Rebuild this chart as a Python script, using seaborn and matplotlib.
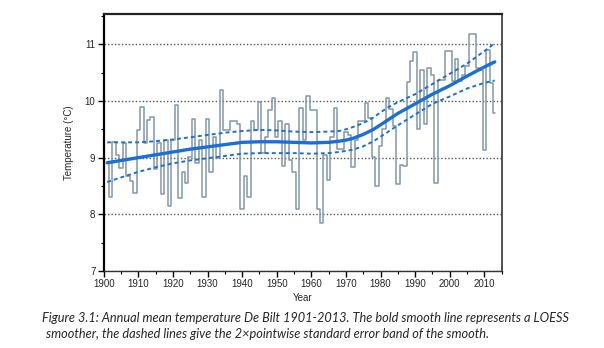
import matplotlib
matplotlib.use("Agg")
import matplotlib.pyplot as plt
import seaborn as sns
import pandas as pd
from matplotlib.ticker import MultipleLocator

years = list(range(1901, 2014))
temps = [8.90, 8.30, 9.27, 9.05, 8.81, 9.25, 8.68, 8.58, 8.37, 9.49,
         9.89, 9.25, 9.66, 9.72, 8.80, 9.25, 8.36, 9.31, 8.14, 9.31,
         9.93, 8.28, 8.75, 8.55, 9.02, 9.68, 8.91, 9.31, 8.30, 9.68,
         8.75, 9.37, 8.99, 10.20, 9.48, 9.49, 9.65, 9.65, 9.60, 8.10,
         8.68, 8.30, 9.64, 9.49, 9.99, 9.08, 9.37, 9.84, 10.05, 9.37,
         9.64, 8.85, 9.60, 8.95, 8.75, 8.10, 9.87, 9.32, 10.09, 9.84,
         9.84, 8.10, 7.84, 9.05, 8.60, 9.37, 9.87, 9.16, 9.15, 9.45,
         9.40, 8.84, 9.31, 9.64, 9.65, 9.97, 9.70, 9.02, 8.50, 9.20,
         9.50, 10.05, 9.85, 9.55, 8.53, 8.87, 8.85, 10.34, 10.71, 10.87,
         9.50, 10.54, 9.60, 10.58, 10.46, 8.56, 10.37, 10.37, 10.89, 10.89,
         10.36, 10.74, 10.36, 10.46, 10.62, 11.18, 11.18, 10.58, 10.55, 9.14,
         10.90, 10.31, 9.79]

smooth_years = [1901, 1905, 1910, 1915, 1920, 1925, 1930, 1935, 1940, 1945, 1950, 1955,
                1960, 1965, 1968, 1970, 1972, 1975, 1978, 1980, 1982, 1985, 1990, 1995,
                2000, 2005, 2010, 2013]
loess = [8.91, 8.95, 9.00, 9.05, 9.10, 9.15, 9.19, 9.23, 9.27, 9.28, 9.28, 9.27,
         9.26, 9.27, 9.29, 9.31, 9.34, 9.41, 9.50, 9.58, 9.66, 9.78, 9.95, 10.12,
         10.27, 10.44, 10.60, 10.69]
upper = [9.27, 9.27, 9.27, 9.29, 9.32, 9.36, 9.40, 9.44, 9.47, 9.49, 9.48, 9.46,
         9.45, 9.46, 9.47, 9.50, 9.54, 9.61, 9.71, 9.80, 9.88, 9.98, 10.12, 10.30,
         10.48, 10.66, 10.88, 11.02]
lower = [8.57, 8.65, 8.75, 8.83, 8.90, 8.95, 8.99, 9.03, 9.07, 9.08, 9.08, 9.08,
         9.07, 9.08, 9.10, 9.12, 9.14, 9.20, 9.29, 9.37, 9.45, 9.57, 9.76, 9.95,
         10.08, 10.22, 10.32, 10.36]

y_ticks = [7, 8, 9, 10, 11]
x_ticks = [1900, 1910, 1920, 1930, 1940, 1950, 1960, 1970, 1980, 1990, 2000, 2010]

caption1 = ("Figure 3.1: Annual mean temperature De Bilt 1901-2013. "
            "The bold smooth line represents a LOESS")
caption2 = ("smoother, the dashed lines give the 2\u00d7pointwise standard "
            "error band of the smooth.")

df = pd.DataFrame({"Year": years, "Temp": temps})
sm = pd.DataFrame({"Year": smooth_years, "loess": loess, "upper": upper, "lower": lower})

sns.set_style("white")
plt.rcParams["font.family"] = ["Liberation Sans", "DejaVu Sans"]

fig = plt.figure(figsize=(6.04, 3.48), dpi=100)
ax = fig.add_axes([0.1717, 0.2213, 0.8306 - 0.1717, 0.959 - 0.2213])

for yv in y_ticks:
    ax.axhline(yv, color="#555555", linestyle=(0, (1, 1.5)), linewidth=1.0, zorder=0)

sns.lineplot(data=df, x="Year", y="Temp", ax=ax, drawstyle="steps-mid",
             estimator=None, color="#8297a8", linewidth=1.1, zorder=2)
sns.lineplot(data=sm, x="Year", y="upper", ax=ax, estimator=None,
             color="#1f6fd0", linewidth=1.4, linestyle=(0, (2, 1.6)), zorder=3)
sns.lineplot(data=sm, x="Year", y="lower", ax=ax, estimator=None,
             color="#1f6fd0", linewidth=1.4, linestyle=(0, (2, 1.6)), zorder=3)
sns.lineplot(data=sm, x="Year", y="loess", ax=ax, estimator=None,
             color="#1a6fd6", linewidth=2.4, zorder=4)

ax.set_xlim(1900, 2015)
ax.set_ylim(7, 11.53)
ax.set_yticks(y_ticks)
ax.set_xticks(x_ticks)
ax.yaxis.set_minor_locator(MultipleLocator(0.5))
ax.xaxis.set_minor_locator(MultipleLocator(5))
ax.tick_params(axis="both", which="major", direction="out", length=4, width=1,
               color="black", labelsize=7, pad=2, left=True, bottom=True)
ax.tick_params(axis="both", which="minor", direction="out", length=2.5, width=0.8,
               color="black", left=True, bottom=True)

ax.set_xlabel("Year", fontsize=7, labelpad=3)
ax.set_ylabel("Temperature (\u00b0C)", fontsize=7, labelpad=8)

ax.spines["left"].set_color("black")
ax.spines["left"].set_linewidth(1.6)
ax.spines["top"].set_color("#222222")
ax.spines["top"].set_linewidth(1.6)
ax.spines["right"].set_color("#333333")
ax.spines["right"].set_linewidth(1.2)
ax.spines["bottom"].set_color("#333333")
ax.spines["bottom"].set_linewidth(1.0)
ax.spines["bottom"].set_linestyle((0, (1, 1)))

fig.text(42 / 604, 1 - 318 / 348, caption1, fontsize=9.2, style="italic",
         family=["Lato", "DejaVu Sans"], va="center", ha="left")
fig.text(46 / 604, 1 - 334 / 348, caption2, fontsize=9.2, style="italic",
         family=["Lato", "DejaVu Sans"], va="center", ha="left")

fig.savefig("out.png", dpi=100)
